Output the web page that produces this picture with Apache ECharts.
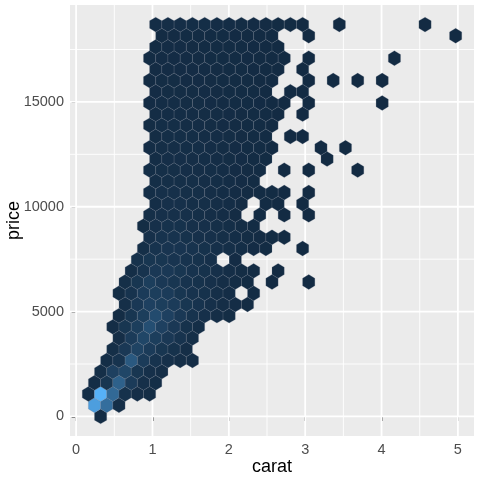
<!DOCTYPE html>
<html>
<head>
<meta charset="utf-8">
<script src="https://cdn.jsdelivr.net/npm/echarts@6/dist/echarts.min.js"></script>
<style>
html, body { margin: 0; padding: 0; background: #fff; }
#chart { width: 480px; height: 480px; }
</style>
</head>
<body>
<div id="chart"></div>
<script>
// hex lattice of stat_bin_hex (30 bins)
var binW = 0.160333;
var binH = 616.57;
var rowStep = 533.96;
var xLimits = [-0.0802, 5.2108];
var yLimits = [-934.4, 19623];

var xTicks = [0, 1, 2, 3, 4, 5];
var xMinor = [0.5, 1.5, 2.5, 3.5, 4.5];
var yTicks = [0, 5000, 10000, 15000];
var yMinor = [2500, 7500, 12500, 17500];

// first filled column of each hex row, bottom row first
var firstCol = [1, 0, 0, 0, 1, 1, 2, 2, 2, 2, 3, 2, 3, 3, 4, 4, 5, 4,
	5, 5, 5, 5, 5, 5, 5, 5, 5, 5, 5, 5, 5, 5, 5, 5, 6, 5];

// counts from firstCol onwards, 0 = empty cell
var rowCounts = [
	[60],
	[4300, 2500, 150],
	[100, 5000, 2300, 250, 120, 60],
	[80, 400, 2000, 600, 200, 100],
	[150, 800, 1000, 400, 200, 120],
	[100, 300, 1700, 600, 300, 200, 120, 80],
	[150, 500, 900, 600, 400, 250, 120],
	[120, 600, 1000, 700, 500, 300, 150],
	[80, 400, 700, 1300, 800, 500, 250, 100],
	[60, 400, 700, 1200, 800, 500, 300, 200, 120, 60],
	[150, 500, 800, 700, 600, 400, 300, 200, 120, 80, 40],
	[60, 300, 600, 700, 600, 400, 300, 250, 150, 80, 0, 30],
	[150, 400, 700, 500, 400, 300, 250, 200, 120, 60, 30, 0, 10, 0, 0, 5],
	[100, 300, 500, 500, 400, 300, 250, 200, 120, 60, 30, 0, 10],
	[250, 400, 400, 350, 300, 250, 200, 0, 50],
	[150, 300, 350, 350, 300, 250, 200, 150, 100, 50, 20, 0, 0, 5],
	[200, 300, 300, 250, 200, 200, 150, 100, 60, 40, 20, 10],
	[60, 200, 250, 250, 200, 200, 150, 100, 60, 30],
	[150, 200, 200, 200, 150, 120, 80, 40, 0, 20, 0, 10, 0, 5],
	[100, 200, 200, 150, 150, 120, 80, 40, 0, 20, 10, 0, 5],
	[100, 200, 200, 150, 150, 120, 80, 50, 40, 30, 20, 10, 0, 5],
	[100, 150, 150, 150, 120, 100, 80, 50, 30],
	[100, 150, 150, 130, 120, 100, 80, 50, 40, 20, 0, 10, 0, 5, 0, 0, 0, 3],
	[80, 130, 130, 120, 110, 90, 70, 50, 30, 20, 0, 0, 0, 0, 3],
	[80, 120, 120, 110, 100, 90, 70, 50, 30, 20, 10, 0, 0, 0, 3, 0, 3],
	[70, 110, 110, 100, 90, 80, 60, 40, 30, 20, 0, 10, 5],
	[60, 100, 100, 90, 80, 70, 50, 40, 30, 20, 10],
	[60, 90, 90, 80, 70, 60, 50, 40, 30, 20, 10, 0, 5],
	[50, 80, 80, 70, 60, 50, 40, 30, 20, 15, 10, 5, 0, 5, 0, 0, 0, 0, 0, 3],
	[50, 70, 70, 60, 50, 40, 30, 25, 20, 10, 0, 5, 5],
	[40, 60, 60, 50, 45, 40, 30, 25, 20, 10, 5, 0, 0, 5, 0, 3, 0, 3, 0, 3],
	[40, 55, 55, 50, 45, 40, 30, 20, 15, 10, 5, 0, 3],
	[35, 50, 50, 45, 40, 35, 30, 20, 15, 10, 5, 3, 0, 3, 0, 0, 0, 0, 0, 0, 3],
	[30, 45, 45, 40, 35, 30, 25, 20, 15, 10, 5],
	[40, 40, 35, 30, 25, 20, 15, 10, 8, 5, 0, 0, 3, 0, 0, 0, 0, 0, 0, 0, 0, 0, 0, 0, 3],
	[80, 120, 120, 110, 100, 90, 80, 60, 50, 40, 30, 20, 10, 0, 0, 3, 0, 0, 0, 0, 0, 0, 3]
];

var hexData = [];
rowCounts.forEach(function (row, r) {
	row.forEach(function (n, i) {
		if (!n) return;
		var col = firstCol[r] + i;
		hexData.push([binW * (1 + col + (r % 2) * 0.5), r * rowStep, n]);
	});
});

// panel grid: [direction (0 vertical, 1 horizontal), value, major]
var gridData = [];
xMinor.forEach(function (v) { gridData.push([0, v, 0]); });
yMinor.forEach(function (v) { gridData.push([1, v, 0]); });
xTicks.forEach(function (v) { gridData.push([0, v, 1]); });
yTicks.forEach(function (v) { gridData.push([1, v, 1]); });

var FONT = '"Liberation Sans", Arial, Helvetica, sans-serif';

var renderGrid = function (params, api) {
	var dir = api.value(0), v = api.value(1);
	var a = dir === 0 ? api.coord([v, yLimits[0]]) : api.coord([xLimits[0], v]);
	var b = dir === 0 ? api.coord([v, yLimits[1]]) : api.coord([xLimits[1], v]);
	return {
		type : 'line',
		shape : { x1 : a[0], y1 : a[1], x2 : b[0], y2 : b[1] },
		style : { stroke : '#ffffff', lineWidth : api.value(2) ? 1.8 : 0.9 }
	};
};

var renderHex = function (params, api) {
	var c = api.coord([api.value(0), api.value(1)]);
	var s = api.size([binW / 2, binH / Math.sqrt(3) / 2]);
	var dx = s[0], dy = s[1];
	return {
		type : 'polygon',
		shape : {
			points : [ [ c[0] + dx, c[1] - dy ], [ c[0], c[1] - 2 * dy ],
					[ c[0] - dx, c[1] - dy ], [ c[0] - dx, c[1] + dy ],
					[ c[0], c[1] + 2 * dy ], [ c[0] + dx, c[1] + dy ] ]
		},
		style : {
			fill : api.visual('color'),
			stroke : 'rgba(110,122,138,0.45)',
			lineWidth : 0.5
		}
	};
};

var chart = echarts.init(document.getElementById('chart'));
var option = {
	animation : false,
	backgroundColor : '#ffffff',
	grid : {
		left : 70,
		right : 6,
		top : 5,
		bottom : 44,
		outerBoundsMode : 'none',
		containLabel : false,
		show : true,
		backgroundColor : '#EBEBEB',
		borderWidth : 0
	},
	xAxis : {
		type : 'value',
		min : xLimits[0],
		max : xLimits[1],
		name : 'carat',
		nameLocation : 'middle',
		nameGap : 22,
		nameMoveOverlap : false,
		nameTextStyle : { fontSize : 18, color : '#000', fontFamily : FONT },
		axisLine : { show : false },
		splitLine : { show : false },
		axisTick : {
			customValues : xTicks,
			length : 4.5,
			lineStyle : { color : '#333333', width : 1.5 }
		},
		axisLabel : {
			customValues : xTicks,
			margin : 6,
			fontSize : 14.5,
			color : '#4D4D4D',
			fontFamily : FONT
		}
	},
	yAxis : {
		type : 'value',
		min : yLimits[0],
		max : yLimits[1],
		name : 'price',
		nameLocation : 'middle',
		nameGap : 47,
		nameMoveOverlap : false,
		nameRotate : 90,
		nameTextStyle : { fontSize : 18, color : '#000', fontFamily : FONT },
		axisLine : { show : false },
		splitLine : { show : false },
		axisTick : {
			customValues : yTicks,
			length : 4.5,
			lineStyle : { color : '#333333', width : 1.5 }
		},
		axisLabel : {
			customValues : yTicks,
			margin : 6,
			fontSize : 14.5,
			color : '#4D4D4D',
			fontFamily : FONT,
			formatter : function (v) { return String(v); }
		}
	},
	visualMap : {
		show : false,
		type : 'continuous',
		seriesIndex : 1,
		dimension : 2,
		min : 1,
		max : 5000,
		inRange : { color : [ '#132B43', '#56B1F7' ] }
	},
	series : [ {
		type : 'custom',
		z : 1,
		silent : true,
		renderItem : renderGrid,
		data : gridData
	}, {
		type : 'custom',
		z : 2,
		silent : true,
		renderItem : renderHex,
		data : hexData
	} ]
};
chart.setOption(option);
</script>
</body>
</html>
